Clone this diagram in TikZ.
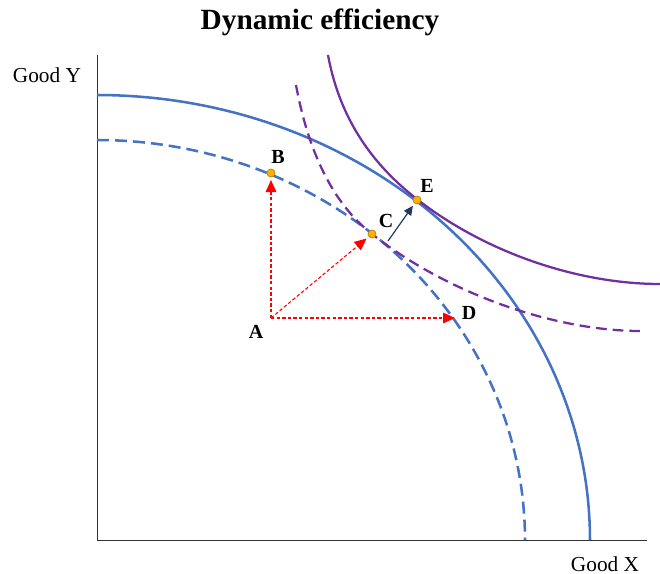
\documentclass[tikz,border=0pt]{standalone}
\usepackage{fontspec}
\setmainfont{Liberation Serif}
\usetikzlibrary{arrows.meta, positioning}
\definecolor{ppfblue}{HTML}{4472C4}
\definecolor{icpurple}{HTML}{7030A0}
\definecolor{dotfill}{HTML}{FFB000}
\definecolor{dotedge}{HTML}{B8860B}
\definecolor{navyarrow}{HTML}{203864}
\tikzstyle{axis}      = [draw=black!80, line width=0.7pt]
\tikzstyle{ppf}       = [draw=ppfblue, line width=1.9pt]
\tikzstyle{ppfdash}   = [ppf, dash pattern=on 9pt off 4.5pt]
\tikzstyle{ic}        = [draw=icpurple, line width=1.7pt]
\tikzstyle{icdash}    = [ic, dash pattern=on 8pt off 4.5pt]
\tikzstyle{redarrow}  = [draw=red, line width=0.8pt, dash pattern=on 2.6pt off 1.6pt, -{Triangle[length=9pt, width=8pt, fill=red]}]
\tikzstyle{growarrow} = [draw=navyarrow, line width=0.9pt, -{Triangle[length=7pt, width=6.5pt]}]
\tikzstyle{point}     = [circle, fill=dotfill, draw=dotedge, line width=0.6pt, minimum size=6pt, inner sep=0pt]
\tikzstyle{lbl}       = [font=\fontsize{15}{15}\selectfont\bfseries, inner sep=0pt]
\tikzstyle{axlbl}     = [font=\fontsize{16}{16}\selectfont, inner sep=0pt]

\begin{document}
\begin{tikzpicture}[x=0.75pt, y=-0.75pt]
\useasboundingbox (0,0) rectangle (660,574);

% title
\node[font=\fontsize{22}{22}\selectfont\bfseries, inner sep=0pt] (title) at (320,22) {Dynamic efficiency};

% axes
\coordinate (O) at (97,540);
\coordinate (ytop) at (97,55);
\coordinate (xend) at (647,540);
\draw[axis] (ytop) -- (O) -- (xend);
\node[axlbl] (ylab) at (47,75) {Good Y};
\node[axlbl] (xlab) at (605,564) {Good X};

% production possibility frontiers
\draw[ppfdash] plot[domain=90:0, samples=80, smooth] ({97+428*cos(\x)},{540-400*sin(\x)});
\draw[ppf] plot[domain=90:0, samples=80, smooth] ({97+493*cos(\x)},{540-445*sin(\x)});

% indifference curves
\draw[icdash] (296,85) .. controls (308,150) and (332,203) .. (372,234)
  .. controls (452,297) and (560,331) .. (640,331);
\draw[ic] (328,55) .. controls (340,120) and (373,165) .. (418,200)
  .. controls (488,254) and (580,284) .. (660,284);

% points
\coordinate (A) at (271,318);
\coordinate (D) at (455,318);
\coordinate (grow) at (388,241);
\node[point] (B) at (271,173) {};
\node[point] (C) at (372,234) {};
\node[point] (E) at (417,200) {};

\draw[redarrow, shorten >=2pt] (A) -- (B);
\draw[redarrow, shorten >=2pt] (A) -- (C);
\draw[redarrow] (A) -- (D);
\draw[growarrow, shorten >=2pt] (grow) -- (E);

\node[lbl] (labA) at (256,332) {A};
\node[lbl] (labB) at (278,157) {B};
\node[lbl] (labC) at (386,221) {C};
\node[lbl] (labD) at (469,313) {D};
\node[lbl] (labE) at (427,186) {E};

\end{tikzpicture}
\end{document}
